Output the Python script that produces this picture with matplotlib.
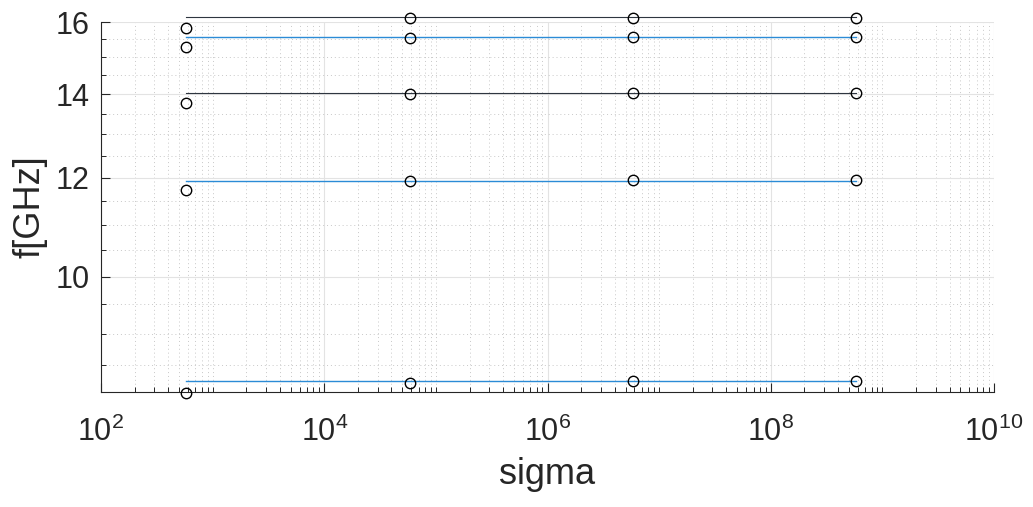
import numpy as np
import matplotlib
matplotlib.use('Agg')
import matplotlib.pyplot as plt
from matplotlib.ticker import FixedLocator, FixedFormatter, NullFormatter

plt.rcParams['font.family'] = ['Liberation Sans', 'DejaVu Sans']
plt.rcParams['mathtext.fontset'] = 'custom'
plt.rcParams['mathtext.rm'] = 'Liberation Sans'
plt.rcParams['mathtext.it'] = 'Liberation Sans:italic'

# conductivity sweep
sigma = [5.8e2, 5.8e4, 5.8e6, 5.8e8]

# simulated resonances (circles), one list per mode
mode1 = [8.07, 8.21, 8.24, 8.24]
mode2 = [11.73, 11.93, 11.95, 11.95]
mode3 = [13.79, 14.01, 14.03, 14.03]
mode4 = [15.27, 15.54, 15.56, 15.56]
mode5 = [15.83, 16.11, 16.13, 16.13]

# reference levels (lines)
ref_blue = [8.24, 11.94, 15.57]
ref_dark = [14.03, 16.14]

xticks = [1e2, 1e4, 1e6, 1e8, 1e10]
xtick_labels = [r'$10^{2}$', r'$10^{4}$', r'$10^{6}$', r'$10^{8}$', r'$10^{10}$']
yticks = [10, 12, 14, 16]
ytick_labels = ['10', '12', '14', '16']

BLUE = '#2b8bd6'
DARK = '#2e3640'
AXC = '#262626'

fig = plt.figure(figsize=(10.33, 5.07), dpi=100)
ax = fig.add_axes([0.0978, 0.2268, 0.8645, 0.7298])

for lvl in ref_blue:
    ax.plot(sigma, [lvl] * len(sigma), color=BLUE, lw=1.0, clip_on=False, zorder=3)
for lvl in ref_dark:
    ax.plot(sigma, [lvl] * len(sigma), color=DARK, lw=0.8, clip_on=False, zorder=3)

for m in [mode1, mode2, mode3, mode4, mode5]:
    ax.plot(sigma, m, 'o', mfc='none', mec='black', ms=7.5, mew=1.0,
            clip_on=False, zorder=4)

ax.set_xscale('log')
ax.set_yscale('log')
ax.set_xlim(1e2, 1e10)
ax.set_ylim(8.08, 16)

xminor = [k * 10.0 ** e for e in range(2, 10) for k in range(1, 10)]
xminor = [v for v in xminor if v not in xticks]
ax.xaxis.set_major_locator(FixedLocator(xticks))
ax.xaxis.set_major_formatter(FixedFormatter(xtick_labels))
ax.xaxis.set_minor_locator(FixedLocator(xminor))
ax.xaxis.set_minor_formatter(NullFormatter())

ax.yaxis.set_major_locator(FixedLocator(yticks))
ax.yaxis.set_major_formatter(FixedFormatter(ytick_labels))
ax.yaxis.set_minor_locator(FixedLocator([v for v in np.arange(8.5, 16, 0.5) if v not in yticks]))
ax.yaxis.set_minor_formatter(NullFormatter())

ax.grid(True, which='major', color='#e3e3e3', lw=0.8, ls='-', zorder=0)
ax.grid(True, which='minor', color='#c8c8c8', lw=0.7, ls=(0, (1, 3)), zorder=0)
ax.set_axisbelow(True)

for s in ['top', 'right']:
    ax.spines[s].set_visible(False)
for s in ['left', 'bottom']:
    ax.spines[s].set_color(AXC)
    ax.spines[s].set_linewidth(0.8)

ax.tick_params(which='both', direction='in', colors=AXC, top=False, right=False)
ax.tick_params(which='major', length=6.5, width=0.8, labelsize=22)
ax.tick_params(which='minor', length=3.6, width=0.7)
ax.tick_params(axis='x', which='major', pad=18)
ax.tick_params(axis='y', which='major', pad=8)

ax.set_xlabel('sigma', fontsize=26, color=AXC, labelpad=6)
ax.set_ylabel('f[GHz]', fontsize=26, color=AXC, labelpad=6)

fig.savefig('out.png', dpi=100)
